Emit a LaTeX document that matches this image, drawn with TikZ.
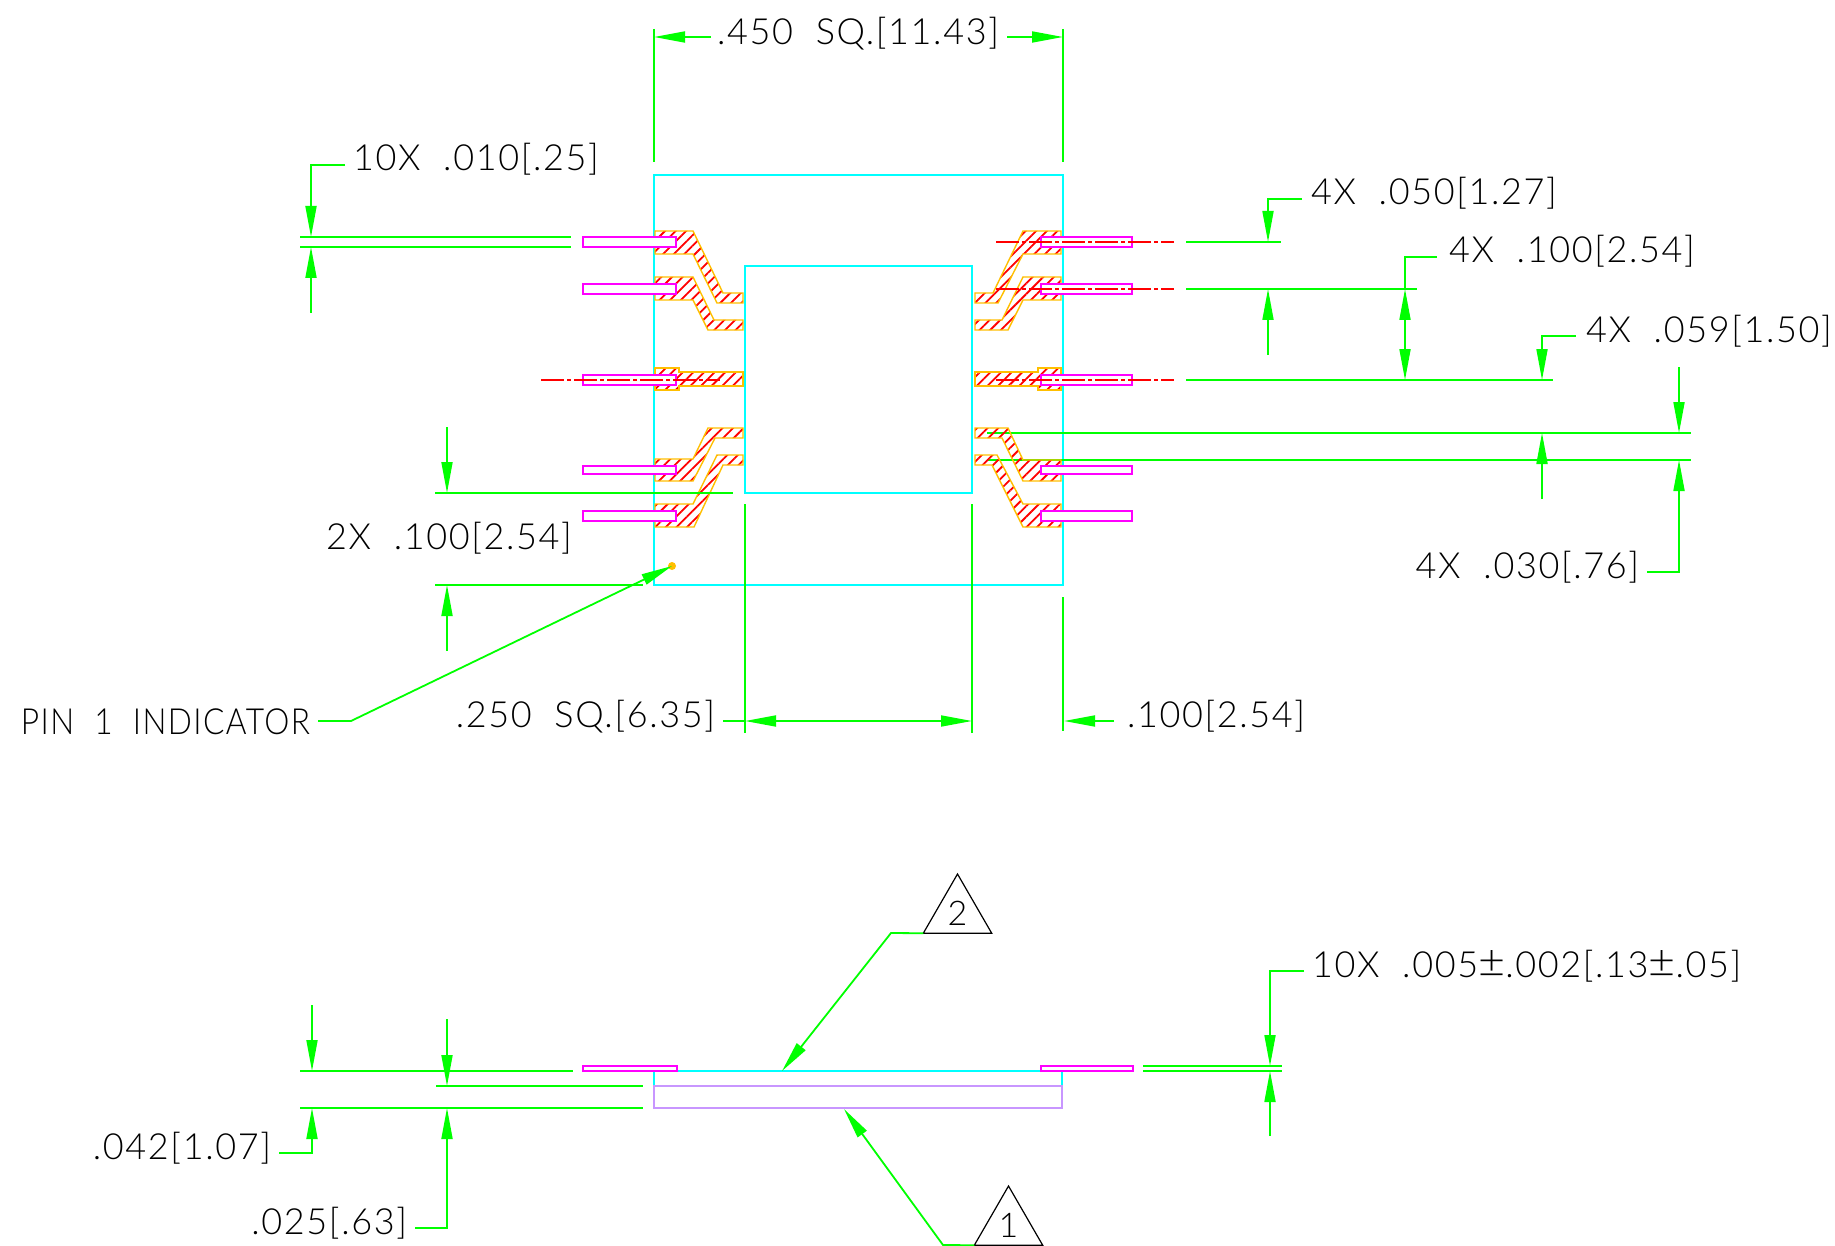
\documentclass[tikz,border=0pt]{standalone}
\usepackage{fontspec}
\usepackage{tikz}
\usetikzlibrary{arrows.meta,patterns.meta,shapes.geometric}
\setmainfont{Lato}[UprightFont=* Light,LetterSpace=4.5]

\definecolor{dimgreen}{HTML}{00FF00}
\definecolor{bodycyan}{HTML}{00FFFF}
\definecolor{pinpink}{HTML}{FF00FF}
\definecolor{leadorange}{HTML}{FFBF00}
\definecolor{basepurple}{HTML}{C896FF}

\newcommand{\plusminus}{\scalebox{1.3}[1.3]{±}}

\tikzset{
  dim/.style={dimgreen,line width=1.8pt,>={Triangle[length=31pt,width=11pt]}},
  outline/.style={bodycyan,line width=1.8pt},
  pinbox/.style={pinpink,line width=1.8pt,fill=white},
  leadpad/.style={leadorange,line width=1.4pt,pattern={Lines[angle=45,distance=7.5pt,line width=1.8pt]},pattern color=red},
  centerline/.style={red,line width=1.5pt,dash pattern=on 23pt off 3pt on 4pt off 3pt},
  dimlabel/.style={inner sep=0pt,outer ysep=0pt,outer xsep=8pt,text height=26pt,text depth=14pt,font=\fontsize{36}{36}\selectfont},
  marker/.style={draw=black,line width=1.2pt,regular polygon,regular polygon sides=3,minimum size=79pt,inner sep=0pt,outer sep=0pt,font=\fontsize{34}{34}\selectfont}
}

\begin{document}
\begin{tikzpicture}[x=1pt,y=-1pt]
  \useasboundingbox (0,0) rectangle (1835,1246);

  % package body
  \draw[outline] (654,175) rectangle (1063,585);
  \draw[outline] (745,266) rectangle (972,493);

  % extension lines under the leads
  \draw[dim] (987,433) -- (1691,433);
  \draw[dim] (987,460) -- (1691,460);

  % leads, left side
  \draw[leadpad] (655,231) -- (693,231) -- (723,293) -- (743,293) -- (743,303) -- (717,303) -- (693,254) -- (655,254) -- cycle;
  \draw[leadpad] (655,277) -- (693,277) -- (714,320) -- (743,320) -- (743,330) -- (708,330) -- (693,300) -- (655,300) -- cycle;
  \draw[leadpad] (655,368) -- (679,368) -- (679,372) -- (743,372) -- (743,386) -- (679,386) -- (679,390) -- (655,390) -- cycle;
  \draw[leadpad] (655,459) -- (693,459) -- (708,428) -- (743,428) -- (743,438) -- (715,438) -- (693,481) -- (655,481) -- cycle;
  \draw[leadpad] (655,504) -- (693,504) -- (717,455) -- (743,455) -- (743,465) -- (723,465) -- (694,527) -- (655,527) -- cycle;

  % leads, right side
  \draw[leadpad] (1061,231) -- (1023,231) -- (993,293) -- (975,293) -- (975,303) -- (998,303) -- (1023,254) -- (1061,254) -- cycle;
  \draw[leadpad] (1061,277) -- (1023,277) -- (1002,320) -- (975,320) -- (975,330) -- (1008,330) -- (1023,300) -- (1061,300) -- cycle;
  \draw[leadpad] (1061,368) -- (1038,368) -- (1038,372) -- (975,372) -- (975,386) -- (1038,386) -- (1038,390) -- (1061,390) -- cycle;
  \draw[leadpad] (975,428) -- (1008,428) -- (1023,460) -- (1061,460) -- (1061,481) -- (1023,481) -- (1002,438) -- (975,438) -- cycle;
  \draw[leadpad] (975,455) -- (997,455) -- (1023,504) -- (1061,504) -- (1061,527) -- (1023,527) -- (992,465) -- (975,465) -- cycle;

  % pins
  \foreach \ya/\yb in {237/247,284/294,375/385,466/474,511/521} {
    \draw[pinbox] (583,\ya) rectangle (676,\yb);
    \draw[pinbox] (1041,\ya) rectangle (1132,\yb);
  }

  % center lines
  \draw[centerline] (996,242) -- (1174,242);
  \draw[centerline] (996,289) -- (1174,289);
  \draw[centerline] (996,380) -- (1174,380);
  \draw[centerline] (541,380) -- (720,380);

  % overall size
  \node[dimlabel,outer xsep=0pt] (sizetop) at (858,39) {.450~~SQ.[11.43]};
  \draw[dim] (654,29) -- (654,162);
  \draw[dim] (1063,29) -- (1063,162);
  \draw[dim,->] (711,37) -- (654,37);
  \draw[dim,->] (1007,37) -- (1063,37);

  % lead width, left
  \node[dimlabel,anchor=west] (leadwidth) at (345,165) {10X~~.010[.25]};
  \draw[dim] (300,237) -- (571,237);
  \draw[dim] (300,247) -- (571,247);
  \draw[dim,->] (leadwidth.west) -- (311,165) -- (311,237);
  \draw[dim,->] (311,313) -- (311,247);

  % right side pitches
  \node[dimlabel,anchor=west,outer xsep=9pt] (pitcha) at (1302,199) {4X~~.050[1.27]};
  \draw[dim] (1186,242) -- (1281,242);
  \draw[dim] (1186,289) -- (1417,289);
  \draw[dim] (1186,380) -- (1553,380);
  \draw[dim,->] (pitcha.west) -- (1268,199) -- (1268,242);
  \draw[dim,->] (1268,355) -- (1268,289);
  \node[dimlabel,anchor=west,outer xsep=12pt] (pitchb) at (1437,257) {4X~~.100[2.54]};
  \draw[dim] (pitchb.west) -- (1405,257) -- (1405,289);
  \draw[dim,<->] (1405,289) -- (1405,380);
  \node[dimlabel,anchor=west,outer xsep=10pt] (pitchc) at (1576,336) {4X~~.059[1.50]};
  \draw[dim,->] (pitchc.west) -- (1542,336) -- (1542,380);
  \draw[dim,->] (1542,499) -- (1542,433);

  % lead foot width
  \draw[dim,->] (1679,367) -- (1679,433);
  \node[dimlabel,anchor=east] (footwidth) at (1647,572) {4X~~.030[.76]};
  \draw[dim,->] (footwidth.east) -- (1679,572) -- (1679,460);

  % left side pitch
  \node[dimlabel,outer xsep=0pt] (pitchleft) at (449,543) {2X~~.100[2.54]};
  \draw[dim] (435,493) -- (733,493);
  \draw[dim] (435,585) -- (643,585);
  \draw[dim,->] (447,427) -- (447,493);
  \draw[dim,->] (447,651) -- (447,585);

  % pin 1
  \fill[leadorange] (672,566) circle (4pt);
  \node[dimlabel,anchor=east,text height=26pt,text depth=0pt] (pinone) at (318,721) {\scalebox{.88}[1]{PIN~~1~~INDICATOR}};
  \coordinate (pindot) at (672,566);
  \draw[dim,->] (pinone.east) -- (351,721) -- (pindot);

  % inner square size
  \node[dimlabel,anchor=east] (sizeinner) at (723,721) {.250~~SQ.[6.35]};
  \draw[dim] (745,504) -- (745,733);
  \draw[dim] (972,504) -- (972,733);
  \draw[dim] (1063,597) -- (1063,731);
  \draw[dim] (sizeinner.east) -- (745,721);
  \draw[dim,<->] (745,721) -- (972,721);
  \node[dimlabel,anchor=west,outer xsep=13pt] (offset) at (1114,721) {.100[2.54]};
  \draw[dim,->] (offset.west) -- (1064,721);

  % side view
  \draw[outline] (654,1086) -- (654,1071) -- (1062,1071) -- (1062,1086);
  \draw[basepurple,line width=1.8pt] (654,1086) rectangle (1062,1108);
  \draw[pinbox] (583,1066) rectangle (677,1071);
  \draw[pinbox] (1041,1066) rectangle (1133,1071);

  \draw[dim] (300,1071) -- (573,1071);
  \draw[dim] (436,1086) -- (643,1086);
  \draw[dim] (300,1108) -- (643,1108);
  \draw[dim,->] (312,1005) -- (312,1071);
  \node[dimlabel,anchor=east] (heighta) at (279,1153) {.042[1.07]};
  \draw[dim,->] (heighta.east) -- (312,1153) -- (312,1108);
  \draw[dim,->] (447,1019) -- (447,1086);
  \node[dimlabel,anchor=east] (heightb) at (415,1228) {.025[.63]};
  \draw[dim,->] (heightb.east) -- (447,1228) -- (447,1108);

  \draw[dim] (1143,1066) -- (1282,1066);
  \draw[dim] (1143,1071) -- (1282,1071);
  \node[dimlabel,anchor=west] (thick) at (1304,971) {10X~~.005\plusminus.002[.13\plusminus.05]};
  \draw[dim,->] (thick.west) -- (1270,971) -- (1270,1066);
  \draw[dim,->] (1270,1136) -- (1270,1071);

  % note markers
  \node[marker] (notetwo) at (957.5,913.5) {2};
  \coordinate (notetwotip) at (782,1071);
  \draw[dim,->] (notetwo.corner 2) -- (891,933) -- (notetwotip);
  \node[marker] (noteone) at (1008.5,1225.5) {1};
  \coordinate (noteonetip) at (844,1109);
  \draw[dim,->] (noteone.corner 2) -- (943,1245) -- (noteonetip);
\end{tikzpicture}
\end{document}
